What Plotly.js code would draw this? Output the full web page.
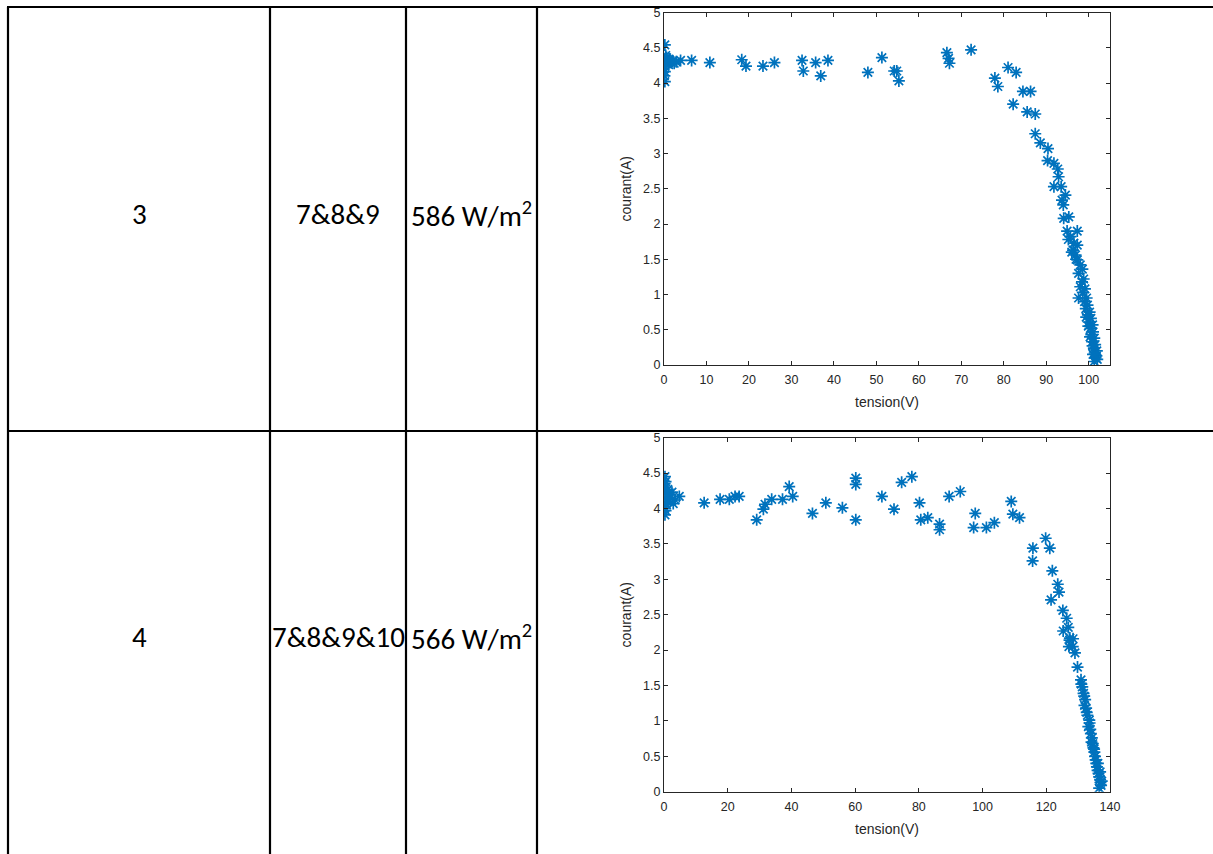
<!DOCTYPE html>
<html>
<head>
<meta charset="utf-8">
<script src="https://cdn.plot.ly/plotly-3.0.1.min.js"></script>
<style>html,body{margin:0;padding:0;background:#fff;}#chart{width:1213px;height:854px;}</style>
</head>
<body>
<div id="chart"></div>
<script>
// ---- table content ----
const rowNumbers = ['3', '4'];
const panelGroups = ['7&8&9', '7&8&9&10'];
const irradiance = [586, 566];

// ---- axis ticks ----
const yTicks = [0, 0.5, 1, 1.5, 2, 2.5, 3, 3.5, 4, 4.5, 5];
const xTicks3 = [0, 10, 20, 30, 40, 50, 60, 70, 80, 90, 100];
const xTicks4 = [0, 20, 40, 60, 80, 100, 120, 140];

// ---- row 3 : I-V points ----
const tension3 = [0.2,0.2,0.2,0.1,0.3,0.5,0.6,0.9,1.1,1.4,1.7,2.0,2.4,2.9,0.2,0.4,0.1,1.2,3.9,
  6.5,10.8,18.3,19.3,23.3,26.0,32.5,32.8,35.7,36.9,38.6,48.0,51.3,54.2,54.8,55.3,66.6,67.0,67.2,72.3,
  77.9,78.6,81.0,82.9,82.2,84.5,86.3,85.5,87.4,87.4,88.6,90.4,90.3,91.8,92.7,92.9,91.8,93.5,94.5,93.7,
  94.0,94.1,95.3,94.9,97.3,95.7,96.5,97.3,96.3,96.9,97.3,98.0,97.6,98.4,98.0,98.6,97.6,99.0,99.3,99.8,
  100.0,100.4,100.6,100.8,101.2,101.4,101.6,101.3,
  98.5,98.8,99.1,99.5,99.7,100.2,100.5,100.9,101.0,101.3,101.5,101.9,101.8,102.0,101.0,100.9,100.3,99.9,99.4,96.0,95.2,97.0];
const courant3 = [4.54,4.16,4.02,4.30,4.33,4.27,4.36,4.30,4.26,4.32,4.29,4.31,4.28,4.30,4.24,4.39,4.10,4.34,4.32,
  4.32,4.29,4.33,4.24,4.24,4.29,4.32,4.17,4.29,4.10,4.32,4.15,4.36,4.17,4.17,4.03,4.43,4.35,4.28,4.47,
  4.07,3.95,4.22,4.15,3.70,3.88,3.88,3.59,3.56,3.28,3.15,3.07,2.90,2.86,2.78,2.67,2.53,2.53,2.41,2.34,
  2.27,2.08,2.10,1.90,1.90,1.82,1.73,1.70,1.63,1.56,1.49,1.42,1.30,1.18,1.11,1.03,0.95,0.90,0.80,0.71,
  0.61,0.52,0.43,0.33,0.24,0.17,0.10,0.05,
  1.36,1.22,1.08,0.95,0.85,0.75,0.66,0.57,0.47,0.38,0.29,0.20,0.13,0.08,0.15,0.27,0.40,0.55,0.68,1.60,1.78,1.50];

// ---- row 4 : I-V points ----
const tension4 = [0.3,0.3,0.2,0.5,0.4,0.6,0.3,1.0,1.5,2.0,2.9,2.5,3.5,4.8,0.8,1.2,0.2,0.5,
  12.6,17.6,20.5,22.3,23.6,29.1,31.2,31.7,33.8,37.2,39.3,40.4,46.6,50.8,56.0,60.2,60.2,60.2,68.4,72.2,
  74.6,77.8,80.2,80.6,82.8,86.5,86.5,89.5,93.0,97.7,97.2,101.2,103.7,109.0,109.5,111.6,115.8,115.7,
  119.8,121.1,121.9,121.5,123.6,124.0,125.2,126.4,125.3,126.9,127.4,128.4,127.3,128.3,127.1,129.0,
  129.8,130.9,131.3,131.7,132.2,132.5,132.9,133.5,133.2,134.0,134.6,135.1,135.5,135.9,136.4,136.9,137.2,136.6,
  131.0,131.9,132.0,132.7,133.6,133.8,134.3,134.8,135.3,135.7,136.1,136.6,137.0,134.2,135.0,136.2,136.9,137.4];
const courant4 = [4.45,3.91,4.00,4.38,4.30,4.22,4.15,4.10,4.20,4.15,4.07,4.23,4.12,4.17,4.05,4.27,4.35,3.97,
  4.08,4.13,4.13,4.17,4.17,3.84,3.99,4.06,4.13,4.13,4.31,4.17,3.93,4.08,4.01,4.43,4.34,3.84,4.17,3.99,
  4.37,4.45,4.08,3.84,3.87,3.78,3.70,4.17,4.24,3.93,3.73,3.73,3.80,4.10,3.92,3.87,3.44,3.26,
  3.58,3.44,3.12,2.71,2.93,2.82,2.56,2.45,2.27,2.32,2.17,2.16,2.14,2.05,2.05,1.96,
  1.76,1.58,1.48,1.39,1.30,1.18,1.08,1.01,0.92,0.82,0.68,0.56,0.45,0.35,0.26,0.17,0.09,0.05,
  1.52,1.35,1.22,1.12,0.97,0.88,0.76,0.62,0.50,0.40,0.30,0.21,0.13,0.70,0.60,0.40,0.28,0.15];

// ---- page geometry (pixels) ----
const W = 1213, H = 854;
const px = v => v / W;
const py = v => 1 - v / H;
const colX = [8, 270, 406, 537];
const rowY = [7, 431];
const rowCenters = [214, 637];

const marker = {symbol: 'asterisk-open', size: 10, color: '#0072BD', line: {color: '#0072BD', width: 1.7}};
const axisText = '#262626';

function xAxis(domain, range, ticks, anchor) {
  return {domain: domain, range: range, tickvals: ticks, ticktext: ticks.map(String), anchor: anchor,
    showline: true, linecolor: axisText, linewidth: 1, mirror: 'ticks', ticks: 'inside', ticklen: 4,
    tickcolor: axisText, showgrid: false, zeroline: false, fixedrange: true, ticklabelstandoff: 3,
    tickfont: {family: 'Liberation Sans, Arial, sans-serif', size: 12.5, color: axisText},
    title: {text: 'tension(V)', font: {family: 'Liberation Sans, Arial, sans-serif', size: 14, color: axisText}, standoff: 11}};
}
function yAxis(domain, anchor) {
  return {domain: domain, range: [0, 5], tickvals: yTicks, ticktext: yTicks.map(String), anchor: anchor,
    showline: true, linecolor: axisText, linewidth: 1, mirror: 'ticks', ticks: 'inside', ticklen: 4,
    tickcolor: axisText, showgrid: false, zeroline: false, fixedrange: true,
    tickfont: {family: 'Liberation Sans, Arial, sans-serif', size: 12.5, color: axisText},
    title: {text: 'courant(A)', font: {family: 'Liberation Sans, Arial, sans-serif', size: 14, color: axisText}, standoff: 8}};
}

const xDom = [px(664), px(1110)];
const traces = [
  {type: 'scatter', mode: 'markers', x: tension3, y: courant3, xaxis: 'x', yaxis: 'y', marker: marker, hoverinfo: 'skip'},
  {type: 'scatter', mode: 'markers', x: tension4, y: courant4, xaxis: 'x2', yaxis: 'y2', marker: marker, hoverinfo: 'skip'}
];

const shapes = [];
const line = {color: '#000', width: 2.2};
// horizontal rules
rowY.forEach(y => shapes.push({type: 'line', xref: 'paper', yref: 'paper', x0: px(colX[0] - 1), x1: 1, y0: py(y), y1: py(y), line: line, layer: 'above'}));
// vertical rules
colX.forEach(x => shapes.push({type: 'line', xref: 'paper', yref: 'paper', x0: px(x), x1: px(x), y0: py(rowY[0]), y1: 0, line: line, layer: 'above'}));

const cellFont = {family: 'Carlito, Lato, "Open Sans", sans-serif', size: 29, color: '#000'};
const annotations = [];
rowNumbers.forEach((r, i) => {
  const yc = py(rowCenters[i]);
  annotations.push({xref: 'paper', yref: 'paper', x: px((colX[0] + colX[1]) / 2), y: yc, text: r, showarrow: false, font: cellFont, xanchor: 'center', yanchor: 'middle'});
  annotations.push({xref: 'paper', yref: 'paper', x: px((colX[1] + colX[2]) / 2), y: yc, text: panelGroups[i], showarrow: false, font: cellFont, xanchor: 'center', yanchor: 'middle'});
  annotations.push({xref: 'paper', yref: 'paper', x: px((colX[2] + colX[3]) / 2), y: yc, text: irradiance[i] + ' W/m<sup>2</sup>', showarrow: false, font: cellFont, xanchor: 'center', yanchor: 'middle'});
});

const layout = {
  width: W, height: H, margin: {l: 0, r: 0, t: 0, b: 0}, showlegend: false,
  paper_bgcolor: '#fff', plot_bgcolor: '#fff',
  xaxis: xAxis(xDom, [0, 105], xTicks3, 'y'),
  yaxis: yAxis([py(365), py(12.5)], 'x'),
  xaxis2: xAxis(xDom, [0, 140], xTicks4, 'y2'),
  yaxis2: yAxis([py(791.7), py(437.7)], 'x2'),
  shapes: shapes, annotations: annotations
};

Plotly.newPlot('chart', traces, layout, {displayModeBar: false, staticPlot: true});
</script>
</body>
</html>
